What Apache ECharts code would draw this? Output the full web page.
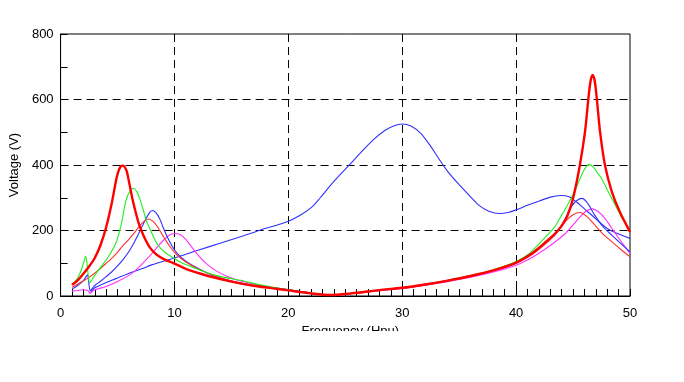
<!DOCTYPE html>
<html>
<head>
<meta charset="utf-8">
<script src="https://cdn.jsdelivr.net/npm/echarts@6/dist/echarts.min.js"></script>
<style>
html,body{margin:0;padding:0;background:#fff;}
#chart{width:684px;height:382px;}
</style>
</head>
<body>
<div id="chart"></div>
<script>
// ---- data: [frequency (Hpu), voltage (V)] ----
const xTicks = [0, 10, 20, 30, 40, 50];
const yTicks = [0, 200, 400, 600, 800];

const blueBroad = [[2.65,12],[3,25],[3.5,33],[4,41],[4.5,48],[5,55],[6.14,71],[7.2,84],[8,95],[10,116],[12,139],[14,161],[15.8,181],[17.5,201],[19.9,227],[21,246],[22,270],[22.8,300],[24,350],[25.4,402],[26.5,443],[27.5,478],[28.5,506],[29.3,520],[30,525],[30.8,518],[31.6,497],[32.4,462],[33.2,420],[34,380],[35,340],[36,303],[36.8,275],[37.6,259],[38.5,252],[39.3,255],[40,263],[41,277],[42.1,291],[43,302],[43.9,307],[44.6,304],[45.3,287],[46,266],[46.6,248],[47.3,226],[48,206],[49,189],[50,176]];

const magenta = [[1,15],[1.5,17],[2,19],[2.4,16],[2.6,8],[2.8,14],[3,19],[4,29],[5,44],[6,63],[6.5,76],[7,92],[7.5,110],[8,129],[8.5,150],[9.06,171],[9.5,185],[10,191],[10.4,189],[10.8,180],[11.2,164],[11.7,141],[12.3,116],[12.9,96],[13.7,76],[14.6,60],[15.5,49],[16.7,39],[18,30],[20,19],[22,8],[23.7,2],[25.5,7],[28,16],[30,23],[32,33],[34,44],[36,57],[38,73],[40,94],[41.2,114],[42.1,133],[43.3,162],[44.3,190],[45,217],[45.5,237],[46.1,258],[46.7,266],[47.2,258],[47.8,237],[48.4,207],[49,177],[49.5,153],[50,130]];

const blue1 = [[1,21],[1.5,32],[2,47],[2.25,60],[2.37,65],[2.47,42],[2.6,16],[2.75,22],[3,32],[3.5,45],[4,59],[4.5,74],[5,92],[5.5,112],[6,136],[6.5,166],[7,201],[7.5,236],[7.8,254],[8.05,261],[8.35,255],[8.7,236],[9,210],[9.36,181],[9.8,152],[10.2,132],[11,106],[12.3,80],[13.5,61],[15.2,44],[17,32],[20,20],[22,9],[23.7,3],[25.5,8],[28,18],[30,25],[32,35],[34,47],[36,61],[38,78],[40,100],[41.2,127],[42.1,150],[43.4,186],[44.3,235],[44.9,275],[45.3,291],[45.8,298],[46.3,282],[46.9,247],[47.6,213],[48.4,186],[49.2,160],[50,135]];

const redThin = [[1,27],[1.5,36],[1.9,44],[2.5,57],[3,70],[3.5,84],[4,100],[4.4,112],[5,134],[5.4,151],[6,173],[6.43,191],[6.9,212],[7.3,227],[7.7,235],[8.05,230],[8.48,213],[8.9,189],[9.36,163],[9.8,142],[10.2,126],[11,104],[12.3,79],[13.5,62],[15,46],[17,32],[20,18],[22,8],[23.7,2],[25.5,7],[28,17],[30,24],[32,34],[34,46],[36,60],[38,77],[40,100],[41.2,122],[42.1,145],[43.4,186],[44.3,227],[45,248],[45.6,255],[46.2,243],[46.9,217],[47.6,190],[48.4,166],[49.2,142],[50,120]];

const green = [[1,34],[1.5,55],[1.8,78],[2.05,105],[2.2,121],[2.3,105],[2.42,65],[2.55,40],[2.7,47],[3,63],[3.68,95],[4.2,120],[4.85,161],[5.3,215],[5.73,290],[6.05,318],[6.4,329],[6.7,318],[7,292],[7.3,258],[7.6,224],[7.9,201],[8.5,158],[9.2,132],[9.94,116],[10.5,104],[11,96],[12.3,78],[14,60],[15.8,48],[17.5,34],[20,19],[22,9],[23.7,3],[25.5,8],[28,18],[30,26],[32,36],[34,48],[36,63],[38,80],[40,105],[41.2,131],[42.3,170],[43.4,212],[44,247],[44.6,283],[45.2,325],[45.8,373],[46.1,392],[46.4,402],[46.8,393],[47.1,378],[47.5,359],[48.1,318],[48.7,278],[49.3,238],[50,201]];

const redThick = [[1,34],[1.5,48],[2,68],[2.5,90],[3,116],[3.5,155],[4,210],[4.5,285],[4.9,358],[5.1,383],[5.3,396],[5.45,398],[5.6,395],[5.8,382],[6,350],[6.3,298],[6.6,255],[6.9,218],[7.3,183],[7.8,150],[8.4,127],[9.1,112],[10,99],[11,83],[12.3,68],[13.5,56],[15,44],[16.7,33],[18.5,24],[20,17],[22,8],[23.7,3],[25.5,8],[28,18],[30,25],[32,35],[34,47],[36,61],[38,78],[40,102],[41.5,133],[42.5,162],[43.4,190],[44,214],[44.5,245],[45,298],[45.6,400],[46.05,502],[46.35,604],[46.54,657],[46.72,675],[46.9,657],[47.08,604],[47.37,502],[47.8,400],[48.4,319],[49.1,257],[50,196]];

const xName = 'Frequency (Hpu)';
const yName = 'Voltage (V)';

const font = 'Liberation Sans, Arial, sans-serif';
const chart = echarts.init(document.getElementById('chart'), null, {renderer: 'canvas'});

function line(name, data, color, width) {
  return {
    name: name, type: 'line', data: data, showSymbol: false, symbol: 'none',
    smooth: 0.3,
    lineStyle: {color: color, width: width}, itemStyle: {color: color},
    clip: true, animation: false
  };
}

const axisCommon = {
  axisLine: {show: true, lineStyle: {color: '#000', width: 1}},
  axisTick: {show: true, inside: true, length: 7, lineStyle: {color: '#000', width: 1}},
  splitLine: {show: true, showMinLine: false, showMaxLine: false, lineStyle: {color: '#000', width: 1, type: [8, 5]}},
  nameTextStyle: {color: '#000', fontSize: 13, fontFamily: font},
};

chart.setOption({
  animation: false,
  backgroundColor: '#fff',
  grid: {left: 60, top: 34, width: 570, height: 262, show: true, borderColor: '#000', borderWidth: 1, backgroundColor: 'transparent'},
  xAxis: Object.assign({}, axisCommon, {
    type: 'value', min: xTicks[0], max: xTicks[xTicks.length - 1], interval: xTicks[1] - xTicks[0],
    minorTick: {show: true, splitNumber: 10, length: 7, lineStyle: {color: '#000', width: 1}},
    axisLabel: {color: '#000', fontSize: 13, fontFamily: font, margin: 11},
    name: xName, nameLocation: 'middle', nameGap: 22,
    nameTextStyle: {color: '#000', fontSize: 13, fontFamily: font, padding: [0, 0, 0, 10]}
  }),
  yAxis: Object.assign({}, axisCommon, {
    type: 'value', min: yTicks[0], max: yTicks[yTicks.length - 1], interval: yTicks[1] - yTicks[0],
    minorTick: {show: true, splitNumber: 2, length: 7, lineStyle: {color: '#000', width: 1}},
    axisLabel: {color: '#000', fontSize: 13, fontFamily: font, margin: 7},
    name: yName, nameLocation: 'middle', nameGap: 28
  }),
  graphic: [{
    type: 'rect', left: 280, top: 331, z: 100,
    shape: {width: 150, height: 20}, style: {fill: '#fff'}
  }],
  series: [
    line('Broad', blueBroad, '#3030ff', 1.1),
    line('Magenta', magenta, '#ff30ff', 1.1),
    line('Blue', blue1, '#3030ff', 1.1),
    line('Red', redThin, '#ff3030', 1.1),
    line('Green', green, '#20f020', 1.1),
    line('Red main', redThick, '#ff0000', 2.4)
  ]
});
</script>
</body>
</html>
